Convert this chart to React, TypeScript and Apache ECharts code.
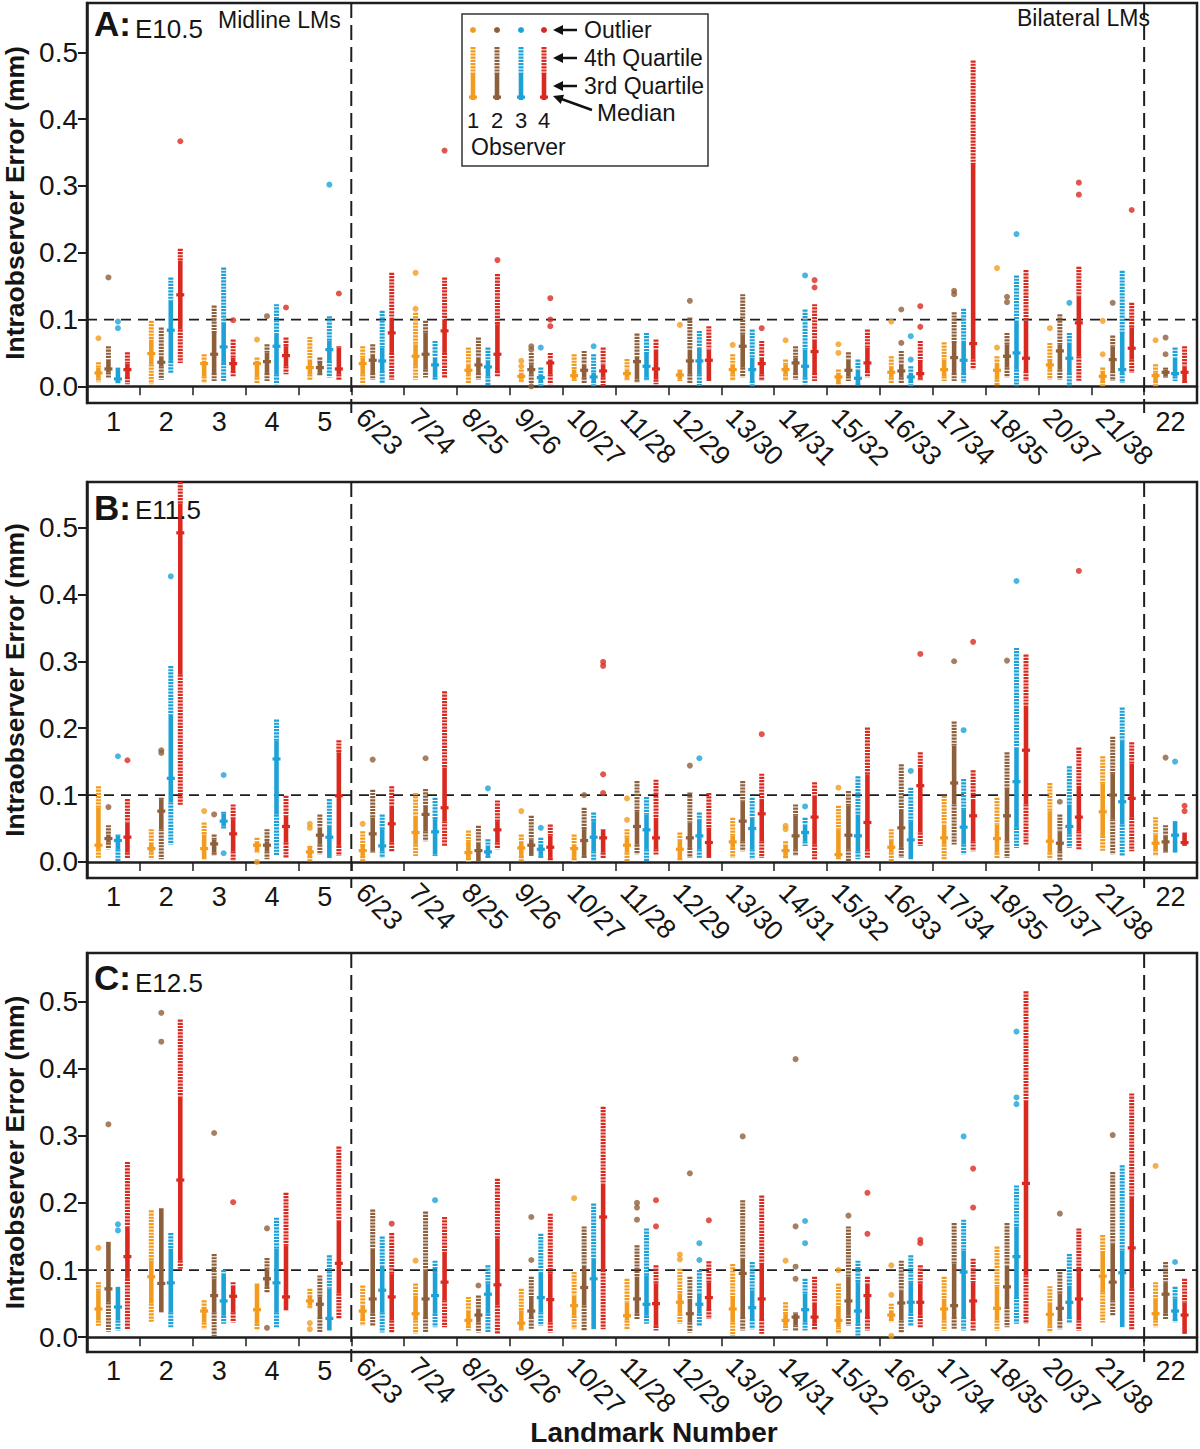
import React, { useEffect, useRef } from 'react';
import * as echarts from 'echarts';

// ---------------- DATA ----------------
const categories = ['1', '2', '3', '4', '5', '6/23', '7/24', '8/25', '9/26', '10/27', '11/28', '12/29', '13/30', '14/31', '15/32', '16/33', '17/34', '18/35', '20/37', '21/38', '22'];
const horizontalLabels = ['1', '2', '3', '4', '5', '22'];
const yTickValues = [0, 0.1, 0.2, 0.3, 0.4, 0.5];
const observers = ['1', '2', '3', '4'];
const observerColors = ['#F39B1E', '#8E5F3B', '#1DA2D8', '#DA2A20'];
const refY = [0.1];
const sectionBounds = [5, 20];
const panelLetters = ['A:', 'B:', 'C:'];
const panelStages = ['E10.5', 'E11.5', 'E12.5'];
const legendItems = ['Outlier', '4th Quartile', '3rd Quartile', 'Median'];

// boxes: [min, q1, median, q3, max] per landmark
const boxA1 = [[0.006,0.012,0.020,0.028,0.036],[0.003,0.033,0.049,0.070,0.098],[0.005,0.015,0.034,0.038,0.048],[0.005,0.013,0.034,0.038,0.043],[0.010,0.018,0.028,0.040,0.074],[0.003,0.018,0.034,0.043,0.060],[0.010,0.030,0.045,0.063,0.110],[0.005,0.018,0.024,0.033,0.058],[0.005,0.010,0.015,0.020,0.025],[0.008,0.010,0.016,0.025,0.048],[0.008,0.013,0.019,0.025,0.041],[0.008,0.010,0.017,0.023,0.025],[0.008,0.018,0.025,0.033,0.048],[0.008,0.018,0.025,0.033,0.040],[0.003,0.005,0.014,0.020,0.025],[0.005,0.013,0.021,0.030,0.045],[0.008,0.015,0.025,0.040,0.066],[0.000,0.010,0.024,0.035,0.045],[0.010,0.025,0.032,0.038,0.065],[0.000,0.008,0.015,0.023,0.028],[0.000,0.008,0.016,0.020,0.033]];
const boxA2 = [[0.013,0.021,0.026,0.040,0.060],[0.010,0.030,0.036,0.045,0.088],[0.008,0.020,0.048,0.080,0.121],[0.008,0.020,0.037,0.050,0.063],[0.015,0.020,0.028,0.035,0.043],[0.010,0.020,0.039,0.048,0.063],[0.013,0.025,0.048,0.080,0.098],[0.010,0.020,0.032,0.043,0.073],[0.005,0.018,0.025,0.033,0.050],[0.005,0.013,0.024,0.033,0.053],[0.005,0.010,0.037,0.045,0.079],[0.005,0.018,0.038,0.055,0.103],[0.013,0.028,0.060,0.078,0.138],[0.010,0.020,0.035,0.043,0.060],[0.008,0.015,0.024,0.040,0.051],[0.005,0.013,0.023,0.033,0.053],[0.008,0.020,0.043,0.065,0.111],[0.013,0.028,0.045,0.063,0.080],[0.010,0.025,0.053,0.063,0.108],[0.008,0.023,0.040,0.060,0.076],[0.013,0.015,0.021,0.025,0.028]];
const boxA3 = [[0.003,0.008,0.011,0.028,0.028],[0.020,0.038,0.084,0.128,0.163],[0.008,0.035,0.059,0.095,0.178],[0.003,0.018,0.060,0.080,0.123],[0.013,0.038,0.055,0.068,0.105],[0.005,0.023,0.038,0.058,0.113],[0.010,0.013,0.032,0.043,0.068],[0.001,0.015,0.029,0.038,0.058],[0.000,0.008,0.013,0.018,0.028],[0.000,0.008,0.014,0.020,0.048],[0.008,0.013,0.030,0.050,0.080],[0.000,0.018,0.038,0.058,0.083],[0.000,0.008,0.025,0.043,0.085],[0.003,0.013,0.030,0.055,0.115],[0.000,0.005,0.012,0.025,0.040],[0.000,0.008,0.014,0.020,0.030],[0.005,0.020,0.039,0.068,0.116],[0.000,0.025,0.050,0.098,0.166],[0.000,0.020,0.042,0.065,0.080],[0.005,0.020,0.025,0.080,0.173],[0.008,0.015,0.019,0.043,0.058]];
const boxA4 = [[0.003,0.014,0.025,0.034,0.051],[0.035,0.085,0.137,0.188,0.206],[0.015,0.023,0.034,0.043,0.070],[0.018,0.030,0.046,0.060,0.073],[0.010,0.018,0.026,0.058,0.060],[0.010,0.050,0.080,0.103,0.170],[0.013,0.050,0.083,0.100,0.163],[0.015,0.023,0.048,0.093,0.168],[0.003,0.018,0.035,0.040,0.050],[0.000,0.013,0.023,0.033,0.058],[0.003,0.010,0.026,0.055,0.070],[0.008,0.008,0.039,0.055,0.090],[0.008,0.018,0.034,0.043,0.068],[0.008,0.020,0.052,0.070,0.123],[0.013,0.023,0.035,0.058,0.085],[0.008,0.013,0.019,0.038,0.068],[0.025,0.040,0.064,0.333,0.488],[0.008,0.023,0.042,0.098,0.174],[0.008,0.045,0.095,0.135,0.179],[0.020,0.040,0.057,0.088,0.125],[0.005,0.008,0.021,0.030,0.060]];

const boxB1 = [[0.006,0.019,0.025,0.081,0.113],[0.004,0.014,0.020,0.029,0.049],[0.004,0.004,0.020,0.041,0.059],[0.014,0.016,0.025,0.031,0.036],[0.000,0.009,0.015,0.021,0.024],[0.001,0.009,0.017,0.024,0.046],[0.009,0.026,0.044,0.069,0.103],[0.000,0.006,0.014,0.031,0.047],[0.001,0.009,0.021,0.031,0.041],[0.000,0.006,0.020,0.026,0.041],[0.001,0.014,0.025,0.036,0.049],[0.001,0.006,0.019,0.034,0.044],[0.006,0.021,0.030,0.039,0.066],[0.004,0.009,0.017,0.024,0.031],[0.004,0.006,0.011,0.049,0.084],[0.000,0.014,0.022,0.034,0.049],[0.004,0.026,0.036,0.056,0.099],[0.006,0.014,0.035,0.056,0.096],[0.004,0.014,0.031,0.076,0.118],[0.016,0.039,0.075,0.117,0.158],[0.009,0.019,0.028,0.041,0.067]];
const boxB2 = [[0.019,0.029,0.035,0.041,0.055],[0.004,0.049,0.076,0.094,0.096],[0.009,0.014,0.027,0.034,0.041],[0.004,0.016,0.025,0.031,0.049],[0.011,0.026,0.040,0.051,0.071],[0.014,0.016,0.042,0.066,0.108],[0.031,0.046,0.071,0.084,0.109],[0.001,0.001,0.017,0.029,0.054],[0.009,0.009,0.025,0.034,0.069],[0.006,0.009,0.032,0.049,0.081],[0.011,0.026,0.053,0.076,0.121],[0.006,0.021,0.036,0.059,0.104],[0.016,0.031,0.061,0.091,0.121],[0.009,0.019,0.039,0.069,0.086],[0.000,0.019,0.040,0.084,0.106],[0.006,0.021,0.051,0.079,0.146],[0.026,0.086,0.118,0.174,0.210],[0.006,0.031,0.069,0.109,0.164],[0.001,0.016,0.028,0.046,0.071],[0.011,0.064,0.100,0.132,0.187],[0.014,0.016,0.030,0.039,0.055]];
const boxB3 = [[0.001,0.019,0.032,0.039,0.041],[0.026,0.089,0.125,0.220,0.293],[0.050,0.053,0.061,0.072,0.075],[0.009,0.071,0.154,0.181,0.213],[0.006,0.006,0.037,0.054,0.094],[0.006,0.016,0.024,0.049,0.071],[0.009,0.011,0.045,0.064,0.096],[0.006,0.009,0.015,0.024,0.034],[0.006,0.009,0.019,0.024,0.036],[0.001,0.016,0.037,0.061,0.074],[0.000,0.019,0.048,0.071,0.097],[0.006,0.019,0.039,0.064,0.074],[0.004,0.019,0.050,0.066,0.096],[0.024,0.031,0.044,0.056,0.066],[0.004,0.016,0.039,0.071,0.128],[0.004,0.004,0.033,0.061,0.111],[0.011,0.026,0.052,0.079,0.124],[0.021,0.051,0.120,0.171,0.320],[0.021,0.041,0.053,0.086,0.143],[0.009,0.056,0.090,0.182,0.231],[0.014,0.014,0.040,0.061,0.061]];
const boxB4 = [[0.006,0.014,0.037,0.059,0.094],[0.084,0.280,0.492,0.536,0.580],[0.001,0.016,0.042,0.064,0.086],[0.006,0.029,0.053,0.069,0.099],[0.009,0.024,0.099,0.164,0.182],[0.016,0.029,0.057,0.084,0.113],[0.024,0.061,0.081,0.141,0.255],[0.019,0.029,0.048,0.061,0.092],[0.001,0.006,0.022,0.039,0.056],[0.006,0.014,0.036,0.048,0.049],[0.011,0.019,0.036,0.066,0.123],[0.006,0.006,0.029,0.051,0.103],[0.006,0.031,0.072,0.094,0.132],[0.004,0.026,0.067,0.099,0.119],[0.006,0.019,0.059,0.131,0.201],[0.024,0.044,0.114,0.141,0.164],[0.016,0.031,0.069,0.094,0.137],[0.026,0.086,0.167,0.234,0.310],[0.019,0.046,0.067,0.114,0.171],[0.016,0.066,0.095,0.147,0.179],[0.024,0.024,0.029,0.044,0.044]];

const boxC1 = [[0.017,0.025,0.042,0.070,0.082],[0.022,0.050,0.090,0.114,0.189],[0.012,0.022,0.039,0.042,0.055],[0.012,0.020,0.041,0.080,0.080],[0.042,0.047,0.054,0.060,0.072],[0.017,0.027,0.039,0.047,0.077],[0.005,0.025,0.035,0.062,0.080],[0.010,0.017,0.025,0.040,0.060],[0.010,0.012,0.021,0.040,0.072],[0.012,0.032,0.047,0.062,0.097],[0.012,0.025,0.032,0.052,0.087],[0.020,0.035,0.052,0.065,0.102],[0.002,0.022,0.042,0.060,0.109],[0.010,0.017,0.025,0.035,0.052],[0.005,0.015,0.025,0.045,0.080],[0.022,0.027,0.033,0.040,0.050],[0.010,0.025,0.042,0.057,0.090],[0.010,0.025,0.043,0.075,0.135],[0.007,0.017,0.034,0.052,0.076],[0.022,0.067,0.091,0.127,0.152],[0.015,0.025,0.035,0.057,0.082]];
const boxC2 = [[0.008,0.052,0.072,0.142,0.142],[0.037,0.037,0.080,0.192,0.192],[0.002,0.037,0.062,0.087,0.124],[0.067,0.075,0.087,0.100,0.118],[0.007,0.030,0.049,0.060,0.092],[0.017,0.035,0.057,0.132,0.190],[0.007,0.030,0.057,0.100,0.187],[0.007,0.022,0.033,0.042,0.062],[0.012,0.030,0.039,0.060,0.090],[0.010,0.047,0.074,0.107,0.165],[0.027,0.035,0.057,0.090,0.137],[0.007,0.022,0.035,0.057,0.090],[0.010,0.030,0.095,0.117,0.204],[0.010,0.018,0.030,0.035,0.037],[0.017,0.032,0.054,0.090,0.165],[0.007,0.025,0.051,0.070,0.114],[0.012,0.030,0.047,0.109,0.170],[0.015,0.045,0.075,0.107,0.170],[0.012,0.027,0.043,0.065,0.097],[0.032,0.055,0.082,0.139,0.246],[0.027,0.035,0.064,0.082,0.112]];
const boxC3 = [[0.010,0.025,0.045,0.075,0.075],[0.015,0.037,0.081,0.132,0.155],[0.020,0.032,0.054,0.095,0.100],[0.015,0.037,0.081,0.132,0.178],[0.010,0.010,0.028,0.072,0.122],[0.007,0.037,0.070,0.107,0.150],[0.015,0.035,0.062,0.097,0.114],[0.007,0.035,0.064,0.080,0.107],[0.017,0.037,0.059,0.097,0.154],[0.012,0.012,0.087,0.117,0.199],[0.020,0.032,0.049,0.092,0.162],[0.017,0.035,0.049,0.065,0.100],[0.012,0.027,0.044,0.070,0.112],[0.010,0.022,0.041,0.065,0.087],[0.002,0.020,0.039,0.082,0.114],[0.017,0.035,0.052,0.082,0.122],[0.010,0.030,0.097,0.129,0.175],[0.020,0.060,0.120,0.165,0.226],[0.022,0.030,0.052,0.077,0.124],[0.015,0.015,0.096,0.129,0.256],[0.022,0.027,0.039,0.057,0.075]];
const boxC4 = [[0.012,0.087,0.120,0.165,0.261],[0.102,0.114,0.234,0.358,0.473],[0.022,0.037,0.061,0.077,0.082],[0.040,0.040,0.060,0.137,0.215],[0.027,0.065,0.110,0.174,0.284],[0.007,0.025,0.060,0.095,0.155],[0.015,0.055,0.082,0.127,0.179],[0.005,0.047,0.078,0.147,0.236],[0.007,0.022,0.056,0.095,0.184],[0.012,0.100,0.179,0.229,0.343],[0.010,0.017,0.050,0.080,0.107],[0.027,0.042,0.059,0.082,0.113],[0.005,0.027,0.057,0.109,0.211],[0.012,0.020,0.030,0.052,0.090],[0.010,0.030,0.062,0.080,0.090],[0.015,0.032,0.052,0.080,0.107],[0.010,0.027,0.054,0.082,0.117],[0.020,0.092,0.229,0.352,0.515],[0.010,0.025,0.057,0.097,0.162],[0.012,0.072,0.133,0.209,0.363],[0.005,0.005,0.033,0.052,0.087]];

// outliers: [landmark index, value]
const outA1 = [[0,0.072],[3,0.070],[6,0.170],[6,0.116],[8,0.038],[8,0.030],[11,0.092],[12,0.062],[13,0.069],[14,0.063],[14,0.050],[15,0.097],[17,0.177],[17,0.058],[18,0.087],[19,0.098],[19,0.048],[20,0.069]];
const outA2 = [[0,0.163],[3,0.105],[8,0.060],[8,0.055],[8,0.000],[11,0.128],[15,0.115],[15,0.065],[16,0.143],[16,0.138],[17,0.134],[17,0.126],[19,0.125],[20,0.073],[20,0.048]];
const outA3 = [[0,0.097],[0,0.087],[4,0.302],[8,0.058],[9,0.060],[13,0.166],[15,0.075],[15,0.040],[17,0.228],[18,0.125]];
const outA4 = [[1,0.367],[2,0.099],[3,0.118],[4,0.139],[6,0.353],[7,0.189],[8,0.132],[8,0.100],[8,0.090],[12,0.087],[13,0.159],[13,0.148],[15,0.120],[15,0.089],[18,0.305],[18,0.287],[19,0.264]];
const outB1 = [[2,0.076],[3,0.000],[4,0.057],[4,0.051],[5,0.057],[8,0.076],[10,0.095],[10,0.063],[13,0.054],[13,0.049],[14,0.111]];
const outB2 = [[0,0.082],[1,0.167],[1,0.163],[2,0.071],[5,0.153],[6,0.155],[9,0.100],[11,0.144],[16,0.300],[17,0.301],[18,0.090],[20,0.156]];
const outB3 = [[0,0.158],[1,0.427],[2,0.130],[2,0.013],[7,0.110],[8,0.051],[11,0.155],[13,0.083],[15,0.136],[16,0.197],[17,0.420],[20,0.150]];
const outB4 = [[0,0.152],[9,0.299],[9,0.293],[9,0.131],[9,0.103],[12,0.191],[15,0.311],[16,0.329],[18,0.435],[20,0.084],[20,0.076]];
const outC1 = [[0,0.133],[4,0.021],[4,0.012],[6,0.114],[9,0.207],[11,0.123],[11,0.116],[13,0.114],[14,0.100],[15,0.107],[15,0.063],[15,0.002],[20,0.255]];
const outC2 = [[0,0.317],[1,0.483],[1,0.440],[2,0.304],[3,0.162],[3,0.014],[7,0.077],[8,0.179],[8,0.115],[10,0.200],[10,0.193],[10,0.175],[11,0.244],[12,0.299],[13,0.414],[13,0.165],[13,0.105],[13,0.087],[14,0.181],[18,0.184],[19,0.301]];
const outC3 = [[0,0.168],[0,0.159],[6,0.204],[11,0.140],[11,0.115],[13,0.173],[13,0.140],[16,0.299],[17,0.455],[17,0.357],[17,0.347],[20,0.112]];
const outC4 = [[2,0.201],[5,0.169],[10,0.204],[10,0.165],[11,0.174],[14,0.215],[14,0.154],[15,0.145],[15,0.140],[16,0.251],[16,0.193]];

const boxes = [[boxA1, boxA2, boxA3, boxA4], [boxB1, boxB2, boxB3, boxB4], [boxC1, boxC2, boxC3, boxC4]];
const outliers = [[outA1, outA2, outA3, outA4], [outB1, outB2, outB3, outB4], [outC1, outC2, outC3, outC4]];

// ---------------- LAYOUT / STYLE ----------------
const FONT = '"Liberation Sans", Arial, Helvetica, sans-serif';
const TEXT_COLOR = '#151515';
const AXIS_COLOR = '#1e1e1e';
const PLOT_LEFT = 87;
const PLOT_WIDTH = 1110;
const LABEL_SHIFT = 17;
const obsOffsets = [-15, -5, 4.5, 14];
const WHISKER_DASH = [2.2, 1];
const panelLayout = [
  { top: 3, height: 400, yMin: -0.025, yMax: 0.574, letterY: 23.5, stageY: 29 },
  { top: 482, height: 396, yMin: -0.024, yMax: 0.568, letterY: 507.5, stageY: 510 },
  { top: 953, height: 399, yMin: -0.022, yMax: 0.572, letterY: 977.5, stageY: 982.5 },
];

function makeBoxRender(color: string, offset: number) {
  return (params: any, api: any) => {
    const cs = params.coordSys;
    const xv = api.value(0);
    const cx = api.coord([xv, 0])[0] + offset;
    const clampY = (y: number) => Math.max(cs.y, Math.min(cs.y + cs.height, y));
    const py = (d: number) => clampY(api.coord([xv, api.value(d)])[1]);
    const yMin = py(1), yQ1 = py(2), yMed = py(3), yQ3 = py(4), yMax = py(5);
    const dash = { stroke: color, lineWidth: 5, lineDash: WHISKER_DASH, fill: null };
    const children: any[] = [];
    if (yQ3 - yMax > 0.5) children.push({ type: 'line', shape: { x1: cx, y1: yMax, x2: cx, y2: yQ3 }, style: dash });
    if (yMin - yQ1 > 0.5) children.push({ type: 'line', shape: { x1: cx, y1: yQ1, x2: cx, y2: yMin }, style: dash });
    children.push({ type: 'rect', shape: { x: cx - 2.3, y: yQ3, width: 4.6, height: Math.max(yQ1 - yQ3, 1) }, style: { fill: color } });
    children.push({ type: 'rect', shape: { x: cx - 4, y: yMed - 1.6, width: 8, height: 3.2 }, style: { fill: color } });
    return { type: 'group', children };
  };
}

function vLineRender(params: any, api: any) {
  const cs = params.coordSys;
  const x = api.coord([api.value(0), 0])[0];
  return { type: 'line', shape: { x1: x, y1: cs.y, x2: x, y2: cs.y + cs.height + 10 }, style: { stroke: AXIS_COLOR, lineWidth: 2, lineDash: [15, 7] } };
}

function hLineRender(params: any, api: any) {
  const cs = params.coordSys;
  const y = api.coord([0, api.value(1)])[1];
  return { type: 'line', shape: { x1: cs.x, y1: y, x2: cs.x + cs.width, y2: y }, style: { stroke: AXIS_COLOR, lineWidth: 1.8, lineDash: [10, 7] } };
}

function txt(text: string, x: number, y: number, size: number, bold = false, align = 'left') {
  return {
    type: 'text', x, y, z: 100,
    style: { text, fontSize: size, fontFamily: FONT, fontWeight: bold ? 'bold' : 'normal', fill: TEXT_COLOR, align, textAlign: align, verticalAlign: 'middle', textVerticalAlign: 'middle' },
  };
}

function arrowHead(tipX: number, tipY: number, dx: number, dy: number) {
  const len = Math.hypot(dx, dy);
  const ux = dx / len, uy = dy / len;
  const bx = tipX - ux * 10, by = tipY - uy * 10;
  const px = -uy * 5, py = ux * 5;
  return { type: 'polygon', z: 100, shape: { points: [[tipX, tipY], [bx + px, by + py], [bx - px, by - py]] }, style: { fill: '#111' } };
}

function buildLegend() {
  const els: any[] = [];
  els.push({ type: 'rect', z: 90, shape: { x: 462, y: 14, width: 246, height: 152 }, style: { fill: '#fff', stroke: '#333', lineWidth: 1.5 } });
  const cols = [473, 497, 521, 544];
  cols.forEach((x, k) => {
    const c = observerColors[k];
    els.push({ type: 'circle', z: 100, shape: { cx: x, cy: 30, r: 3 }, style: { fill: c } });
    els.push({ type: 'line', z: 100, shape: { x1: x, y1: 47, x2: x, y2: 74 }, style: { stroke: c, lineWidth: 5, lineDash: WHISKER_DASH } });
    els.push({ type: 'rect', z: 100, shape: { x: x - 2.3, y: 74, width: 4.6, height: 26 }, style: { fill: c } });
    els.push({ type: 'rect', z: 100, shape: { x: x - 4, y: 95.5, width: 8, height: 3.2 }, style: { fill: c } });
    els.push(txt(observers[k], x, 120.5, 22, false, 'center'));
  });
  els.push(txt('Observer', 471, 147, 23));
  const rows = [30, 58, 86];
  rows.forEach((y, i) => {
    els.push({ type: 'line', z: 100, shape: { x1: 561, y1: y, x2: 577, y2: y }, style: { stroke: '#111', lineWidth: 2.5 } });
    els.push(arrowHead(553, y, -1, 0));
    els.push(txt(legendItems[i], 584, y, 23));
  });
  els.push({ type: 'line', z: 100, shape: { x1: 592, y1: 110, x2: 560, y2: 98.5 }, style: { stroke: '#111', lineWidth: 2.5 } });
  els.push(arrowHead(553, 96, -32, -11.5));
  els.push(txt(legendItems[3], 597, 112, 24));
  return els;
}

function buildOption() {
  const grid: any[] = [], xAxis: any[] = [], yAxis: any[] = [], series: any[] = [];
  const graphic: any[] = [];
  panelLayout.forEach((pl, p) => {
    grid.push({ left: PLOT_LEFT, top: pl.top, width: PLOT_WIDTH, height: pl.height, show: true, borderColor: AXIS_COLOR, borderWidth: 2.5, backgroundColor: 'transparent', containLabel: false, outerBoundsMode: 'none' });
    grid.push({ left: PLOT_LEFT - LABEL_SHIFT, top: pl.top, width: PLOT_WIDTH, height: pl.height, show: false, containLabel: false, outerBoundsMode: 'none' });
    xAxis.push({
      type: 'category', gridIndex: 2 * p, data: categories, boundaryGap: true,
      axisLine: { show: true, lineStyle: { color: AXIS_COLOR, width: 2.5 } },
      axisTick: { show: true, interval: 0, length: 9, lineStyle: { color: AXIS_COLOR, width: 1.5 } },
      axisLabel: { interval: 0, margin: 5, fontSize: 27, fontFamily: FONT, color: TEXT_COLOR, formatter: (v: string) => (horizontalLabels.includes(v) ? v : '') },
      splitLine: { show: false },
    });
    xAxis.push({ type: 'value', gridIndex: 2 * p, min: 0, max: categories.length, show: false });
    xAxis.push({
      type: 'category', gridIndex: 2 * p + 1, data: categories, boundaryGap: true,
      axisLine: { show: false }, axisTick: { show: false }, splitLine: { show: false },
      axisLabel: { interval: 0, rotate: -45, margin: 10, fontSize: 27, fontFamily: FONT, color: TEXT_COLOR, formatter: (v: string) => (horizontalLabels.includes(v) ? '' : v) },
    });
    yAxis.push({
      type: 'value', gridIndex: 2 * p, min: pl.yMin, max: pl.yMax,
      axisLine: { show: true, lineStyle: { color: AXIS_COLOR, width: 2.5 } },
      axisTick: { show: true, length: 9, customValues: yTickValues, lineStyle: { color: AXIS_COLOR, width: 2 } },
      axisLabel: { customValues: yTickValues, formatter: (v: number) => v.toFixed(1), margin: 9, fontSize: 28, fontFamily: FONT, color: TEXT_COLOR },
      splitLine: { show: false },
      name: 'Intraobserver Error (mm)', nameLocation: 'middle', nameGap: 56, nameRotate: 90,
      nameTextStyle: { fontSize: 26.5, fontWeight: 'bold', fontFamily: FONT, color: TEXT_COLOR },
    });
    yAxis.push({ type: 'value', gridIndex: 2 * p + 1, show: false });

    const xi = 3 * p + 1, yi = 2 * p;
    series.push({ type: 'custom', xAxisIndex: xi, yAxisIndex: yi, z: 1, silent: true, data: sectionBounds.map((b) => [b, 0]), renderItem: vLineRender });
    series.push({ type: 'custom', xAxisIndex: xi, yAxisIndex: yi, z: 1, silent: true, data: refY.map((v) => [0, v]), renderItem: hLineRender });
    observers.forEach((o, k) => {
      series.push({
        type: 'custom', name: 'Observer ' + o, xAxisIndex: xi, yAxisIndex: yi, z: 3,
        data: boxes[p][k].map((b, i) => [i + 0.5, ...b]),
        renderItem: makeBoxRender(observerColors[k], obsOffsets[k]),
      });
      series.push({
        type: 'scatter', name: 'Observer ' + o + ' outliers', xAxisIndex: xi, yAxisIndex: yi, z: 4,
        symbol: 'circle', symbolSize: 6, symbolOffset: [obsOffsets[k], 0],
        itemStyle: { color: observerColors[k] },
        data: outliers[p][k].map(([c, v]) => [c + 0.5, v]),
      });
    });

    graphic.push(txt(panelLetters[p], 94, pl.letterY, 35, true));
    graphic.push(txt(panelStages[p], 135, pl.stageY, 26));
  });
  graphic.push(txt('Midline LMs', 218, 20, 23));
  graphic.push(txt('Bilateral LMs', 1017, 18, 23));
  graphic.push(txt('Landmark Number', 654, 1432, 28, true, 'center'));
  graphic.push(...buildLegend());

  return { animation: false, backgroundColor: '#fff', grid, xAxis, yAxis, series, graphic };
}

export default function App() {
  const ref = useRef<HTMLDivElement>(null);
  useEffect(() => {
    const chart = echarts.init(ref.current as HTMLDivElement, null, { renderer: 'svg' });
    chart.setOption(buildOption() as any);
    return () => chart.dispose();
  }, []);
  return <div ref={ref} style={{ position: 'absolute', left: 0, top: 0, width: 1200, height: 1449, background: '#fff' }} />;
}
